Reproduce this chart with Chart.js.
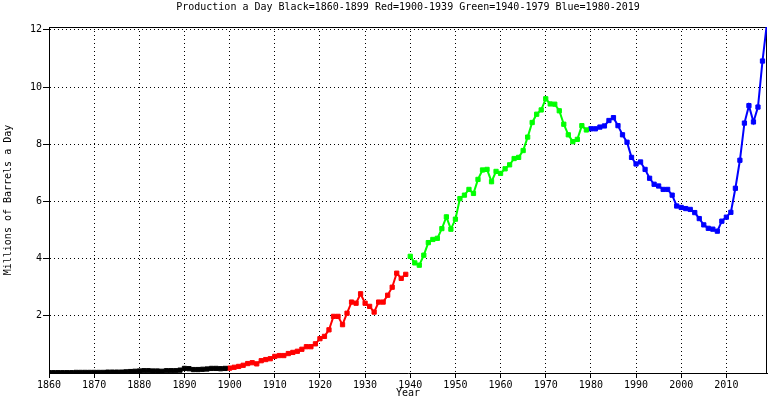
<!DOCTYPE html>
<html><head><meta charset="utf-8">
<script src="https://cdn.jsdelivr.net/npm/chart.js@4"></script>
<style>html,body{margin:0;padding:0;background:#fff}canvas{display:block}</style>
</head><body>
<canvas id="c" width="775" height="399"></canvas>
<script>
const titleText = "Production a Day Black=1860-1899 Red=1900-1939 Green=1940-1979 Blue=1980-2019";
const xTitle = "Year";
const yTitle = "Millions of Barrels a Day";

const blackStart = 1860;
const blackValues = [0.01,0.01,0.01,0.01,0.01,0.01,0.02,0.02,0.02,0.02,
  0.02,0.02,0.02,0.03,0.03,0.03,0.03,0.04,0.05,0.06,
  0.07,0.08,0.08,0.07,0.07,0.06,0.08,0.08,0.08,0.10,
  0.16,0.15,0.12,0.12,0.13,0.14,0.16,0.16,0.15,0.16];
const redStart = 1900;
const redValues = [0.17,0.20,0.23,0.27,0.33,0.36,0.32,0.43,0.47,0.50,
  0.58,0.61,0.61,0.68,0.72,0.76,0.83,0.92,0.92,1.02,
  1.20,1.28,1.51,1.98,1.98,1.69,2.09,2.48,2.44,2.77,
  2.44,2.33,2.13,2.48,2.48,2.72,3.00,3.49,3.31,3.45];
const greenStart = 1940;
const greenValues = [4.08,3.85,3.77,4.12,4.56,4.67,4.71,5.05,5.46,5.03,
  5.38,6.10,6.22,6.42,6.28,6.77,7.10,7.12,6.69,7.05,
  6.98,7.14,7.28,7.50,7.54,7.78,8.25,8.76,9.05,9.20,
  9.59,9.41,9.40,9.17,8.70,8.33,8.09,8.17,8.65,8.50];
const blueStart = 1980;
const blueValues = [8.54,8.54,8.60,8.64,8.83,8.93,8.65,8.33,8.07,7.54,
  7.31,7.38,7.12,6.81,6.60,6.54,6.42,6.42,6.22,5.84,
  5.79,5.75,5.72,5.61,5.40,5.18,5.06,5.03,4.96,5.31,
  5.45,5.62,6.46,7.44,8.74,9.35,8.78,9.30,10.91,12.25];

const xTickValues = [1860,1870,1880,1890,1900,1910,1920,1930,1940,1950,1960,1970,1980,1990,2000,2010];
const yTickValues = [2,4,6,8,10,12];

function toPoints(start, vals){ return vals.map((v,i)=>({x:start+i, y:v})); }
const FAM = "'DejaVu Sans Mono', 'Liberation Mono', monospace";

function series(vals, start, color){
  return {data: toPoints(start, vals), borderColor: color, backgroundColor: color,
    borderWidth: 2, pointStyle: 'rect', pointRadius: 3, pointBorderWidth: 1,
    pointBackgroundColor: color, pointBorderColor: color, tension: 0, clip: 0};
}

const topTitle = {
  id: 'topTitle',
  afterDraw(chart){
    const {ctx, chartArea: a} = chart;
    ctx.save();
    ctx.font = '10px ' + FAM;
    ctx.fillStyle = '#000';
    ctx.textAlign = 'center';
    ctx.textBaseline = 'middle';
    ctx.fillText(titleText, (a.left + a.right) / 2, 7);
    ctx.restore();
  }
};
const frame = {
  id: 'frame',
  beforeDatasetsDraw(chart){
    const {ctx, chartArea: a} = chart;
    ctx.save();
    ctx.strokeStyle = '#000';
    ctx.lineWidth = 1;
    ctx.beginPath();
    ctx.moveTo(Math.round(a.left) + 0.5, Math.round(a.top) + 0.5);
    ctx.lineTo(Math.round(a.right) - 0.5, Math.round(a.top) + 0.5);
    ctx.lineTo(Math.round(a.right) - 0.5, Math.round(a.bottom));
    ctx.stroke();
    ctx.restore();
  }
};

new Chart(document.getElementById('c'), {
  type: 'line',
  data: { datasets: [
    series(blackValues, blackStart, '#000000'),
    series(redValues, redStart, '#ff0000'),
    series(greenValues, greenStart, '#00ff00'),
    series(blueValues, blueStart, '#0000ff')
  ]},
  options: {
    responsive: false, animation: false, devicePixelRatio: 1,
    layout: { padding: { top: 27, right: 8, left: 0, bottom: 0 } },
    plugins: { legend: { display: false }, tooltip: { enabled: false }, title: { display: false } },
    scales: {
      x: {
        type: 'linear', min: 1860, max: 2019,
        afterBuildTicks(s){ s.ticks = xTickValues.map(v => ({value: v})); },
        afterFit(s){ s.height = 26; },
        ticks: { color: '#000', font: { family: FAM, size: 10, lineHeight: 1 }, padding: 2,
                 maxRotation: 0, autoSkip: false, callback: v => String(v) },
        grid: { color: '#000', lineWidth: 1, tickLength: 5, tickColor: '#000', tickBorderDash: [] },
        border: { display: true, color: '#000', width: 1, dash: [1, 3] },
        title: { display: true, text: xTitle, color: '#000', font: { family: FAM, size: 10, lineHeight: 1 },
                 padding: { top: 0, bottom: 1 } }
      },
      y: {
        type: 'linear', min: 0, max: 12.1,
        afterBuildTicks(s){ s.ticks = yTickValues.map(v => ({value: v})); },
        afterFit(s){ s.width = 49; },
        ticks: { color: '#000', font: { family: FAM, size: 10, lineHeight: 1 }, padding: 1,
                 callback: v => String(v) },
        grid: { color: '#000', lineWidth: 1, tickLength: 6, tickColor: '#000', tickBorderDash: [] },
        border: { display: true, color: '#000', width: 1, dash: [1, 3] },
        title: { display: true, text: yTitle, color: '#000', font: { family: FAM, size: 10, lineHeight: 1 },
                 padding: { top: 3, bottom: 0 } }
      }
    }
  },
  plugins: [topTitle, frame]
});
</script>
</body></html>
